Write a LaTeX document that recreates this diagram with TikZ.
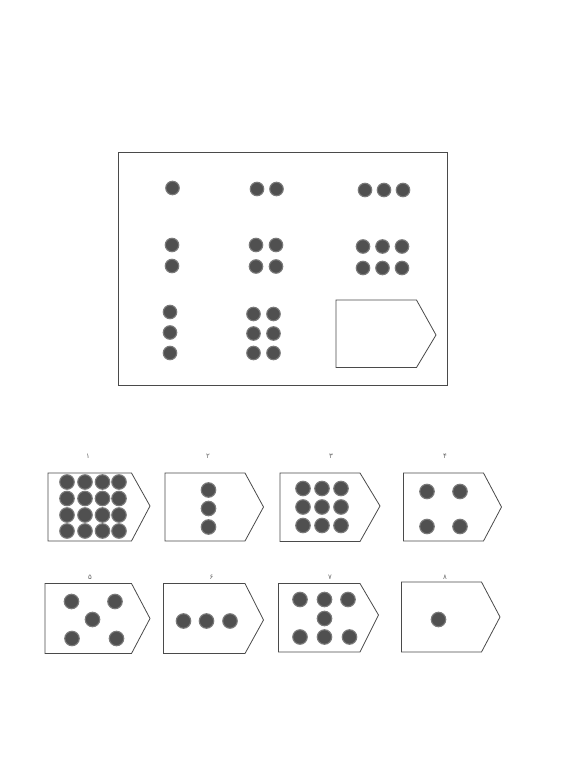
\documentclass[tikz,border=0pt]{standalone}
\usepackage{fontspec}
\newfontfamily\arabicfont[Script=Arabic]{DejaVu Sans}
\definecolor{linegray}{HTML}{4A4A4A}
\definecolor{dotfill}{HTML}{505050}
\definecolor{dotrim}{HTML}{7A7A7A}
\tikzset{
  framebox/.style={draw=linegray, line width=0.8pt},
  cardshape/.style={draw=linegray, line width=0.8pt, line join=miter},
  bigdot/.style={circle, fill=dotfill, draw=dotrim, line width=1.1pt, inner sep=0pt, minimum size=13.5pt},
  optdot/.style={circle, fill=dotfill, draw=dotrim, line width=1.1pt, inner sep=0pt, minimum size=14.5pt},
  optlabel/.style={font=\arabicfont\fontsize{7}{8}\selectfont, text=black!60, inner sep=0pt}
}
% #1 left, #2 top, #3 top-right x, #4 tip x, #5 tip y, #6 bottom
\newcommand\anscard[6]{%
  \draw[cardshape] (#1,#2) -- (#3,#2) -- (#4,#5) -- (#3,#6) -- (#1,#6) -- cycle;}
\begin{document}
\begin{tikzpicture}[x=1pt,y=-1pt]
\useasboundingbox (0,0) rectangle (564,775);
\fill[white] (0,0) rectangle (564,775);

% main matrix frame
\draw[framebox] (118,152) rectangle (447,385);

% row 1
\node[bigdot] (m11a) at (172.5,188) {};
\node[bigdot] (m12a) at (257,189) {};
\node[bigdot] (m12b) at (276.5,189) {};
\node[bigdot] (m13a) at (365,190) {};
\node[bigdot] (m13b) at (384,190) {};
\node[bigdot] (m13c) at (403,190) {};
% row 2
\node[bigdot] (m21a) at (172,245) {};
\node[bigdot] (m21b) at (172,266) {};
\node[bigdot] (m22a) at (256,245) {};
\node[bigdot] (m22b) at (276,245) {};
\node[bigdot] (m22c) at (256,266.5) {};
\node[bigdot] (m22d) at (276,266.5) {};
\node[bigdot] (m23a) at (363,246.5) {};
\node[bigdot] (m23b) at (382.5,246.5) {};
\node[bigdot] (m23c) at (402,246.5) {};
\node[bigdot] (m23d) at (363,268) {};
\node[bigdot] (m23e) at (382.5,268) {};
\node[bigdot] (m23f) at (402,268) {};
% row 3
\node[bigdot] (m31a) at (170,312) {};
\node[bigdot] (m31b) at (170,332.5) {};
\node[bigdot] (m31c) at (170,353) {};
\node[bigdot] (m32a) at (253.5,314) {};
\node[bigdot] (m32b) at (273.5,314) {};
\node[bigdot] (m32c) at (253.5,333.5) {};
\node[bigdot] (m32d) at (273.5,333.5) {};
\node[bigdot] (m32e) at (253.5,353) {};
\node[bigdot] (m32f) at (273.5,353) {};
% empty answer slot
\anscard{336}{300}{416.5}{436}{335}{367.5}

% ---------- answer options, row 1 ----------
\node[optlabel] (l1) at (88,456) {۱};
\node[optlabel] (l2) at (208,456) {۲};
\node[optlabel] (l3) at (331,456) {۳};
\node[optlabel] (l4) at (445,456) {۴};

\anscard{48}{473}{131.5}{150}{506}{541}
\foreach \i/\xx in {1/67,2/85,3/102.5,4/119}{
  \foreach \j/\yy in {1/482,2/498.5,3/515,4/531}{
    \node[optdot] (a1d\i\j) at (\xx,\yy) {};
  }
}

\anscard{165}{473}{245}{263.5}{507}{541}
\node[optdot] (a2a) at (208.5,490) {};
\node[optdot] (a2b) at (208.5,508.5) {};
\node[optdot] (a2c) at (208.5,527) {};

\anscard{280}{473}{360}{380}{506}{541.5}
\foreach \i/\xx in {1/303,2/322,3/341}{
  \foreach \j/\yy in {1/488.5,2/507,3/525.5}{
    \node[optdot] (a3d\i\j) at (\xx,\yy) {};
  }
}

\anscard{403.5}{473}{483.5}{501.5}{507}{541}
\node[optdot] (a4a) at (427,491.5) {};
\node[optdot] (a4b) at (460,491.5) {};
\node[optdot] (a4c) at (427,526.5) {};
\node[optdot] (a4d) at (460,526.5) {};

% ---------- answer options, row 2 ----------
\node[optlabel] (l5) at (90,577) {۵};
\node[optlabel] (l6) at (211.5,577) {۶};
\node[optlabel] (l7) at (330,577) {۷};
\node[optlabel] (l8) at (445,577) {۸};

\anscard{45}{583.5}{131.5}{150}{618.5}{653.5}
\node[optdot] (a5a) at (71.5,601.5) {};
\node[optdot] (a5b) at (115,601.5) {};
\node[optdot] (a5c) at (92.5,619.5) {};
\node[optdot] (a5d) at (72,638.5) {};
\node[optdot] (a5e) at (116.5,638.5) {};

\anscard{163.5}{583.5}{245}{263.5}{620}{653.5}
\node[optdot] (a6a) at (183.5,621) {};
\node[optdot] (a6b) at (206.5,621) {};
\node[optdot] (a6c) at (230,621) {};

\anscard{278.5}{583.5}{360}{378.5}{615}{652}
\node[optdot] (a7a) at (300,599.5) {};
\node[optdot] (a7b) at (324.5,599.5) {};
\node[optdot] (a7c) at (348,599.5) {};
\node[optdot] (a7d) at (324.5,618.5) {};
\node[optdot] (a7e) at (300,637) {};
\node[optdot] (a7f) at (324.5,637) {};
\node[optdot] (a7g) at (349.5,637) {};

\anscard{401.5}{582}{481.5}{500}{617}{652}
\node[optdot] (a8a) at (438.5,619.5) {};
\end{tikzpicture}
\end{document}
